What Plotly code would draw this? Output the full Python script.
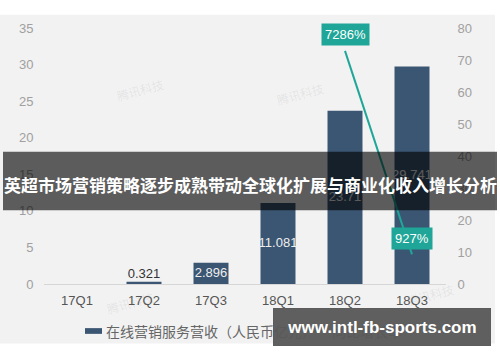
import plotly.graph_objects as go

# ---------------- data ----------------
categories = ["17Q1", "17Q2", "17Q3", "18Q1", "18Q2", "18Q3"]
revenue = [None, 0.321, 2.896, 11.081, 23.71, 29.741]          # 在线营销服务营收（人民币亿元）
revenue_text = ["", "0.321", "2.896", "11.081", "23.71", "29.741"]
growth_pct = [None, None, None, None, 7286, 927]                # 同比增长率 (%)
left_ticks = [0, 5, 10, 15, 20, 25, 30, 35]
right_ticks = [0, 10, 20, 30, 40, 50, 60, 70, 80]

title_text = "英超市场营销策略逐步成熟带动全球化扩展与商业化收入增长分析"
legend_bar = "在线营销服务营收（人民币亿元）"
legend_line = "同比增长率"
watermark = "www.intl-fb-sports.com"
tencent = "腾讯科技"

# ---------------- style ----------------
W, H = 500, 362
BAR = "#3b5672"
TEAL = "#1fa698"
BG = "#f2f2f2"
CJK = "Noto Sans CJK SC"
LAT = "Liberation Sans, Arial, sans-serif"


def px(x):
    return x / W


def py(y):
    return 1 - y / H


fig = go.Figure()

fig.add_bar(x=categories, y=revenue, marker_color=BAR, marker_line_width=0,
            showlegend=False, hoverinfo="skip")

growth_axis = [None if v is None else v / 100 for v in growth_pct]
fig.add_scatter(x=categories, y=growth_axis, yaxis="y2", mode="lines",
                line=dict(color=TEAL, width=2), showlegend=False,
                hoverinfo="skip")

# bar value labels (inside for tall bars, on top for tiny ones)
inside_y = [v / 2 if (v is not None and v >= 1) else None for v in revenue]
outside_y = [v if (v is not None and v < 1) else None for v in revenue]
fig.add_scatter(x=categories, y=inside_y, mode="text", text=revenue_text,
                textfont=dict(color="#eeeeee", size=13, family=LAT),
                showlegend=False, hoverinfo="skip")
fig.add_scatter(x=categories, y=outside_y, mode="text", text=revenue_text,
                textposition="top center",
                textfont=dict(color="#333333", size=13, family=LAT),
                showlegend=False, hoverinfo="skip")

annotations = []
for c, v, g in zip(categories, growth_pct, growth_axis):
    if v is None:
        continue
    annotations.append(dict(
        x=c, y=g, xref="x", yref="y2", text=f"{v}%", showarrow=False,
        yshift=16, bgcolor=TEAL, borderpad=3,
        xanchor="center", yanchor="middle",
        font=dict(color="white", size=13, family=LAT)))

# faint source watermarks
for (x, y) in [(140, 86), (300, 90), (130, 308), (430, 300)]:
    annotations.append(dict(
        x=px(x), y=py(y), xref="paper", yref="paper", text=tencent,
        showarrow=False, textangle=-15, xanchor="center", yanchor="middle",
        font=dict(color="rgba(120,120,120,0.12)", size=12, family=CJK)))

# legend (drawn by hand)
annotations.append(dict(
    x=px(104), y=py(338), xref="paper", yref="paper", text=legend_bar,
    xanchor="left", yanchor="middle", showarrow=False,
    font=dict(color="#666666", size=14, family=CJK)))
annotations.append(dict(
    x=px(330), y=py(338), xref="paper", yref="paper", text=legend_line,
    xanchor="left", yanchor="middle", showarrow=False,
    font=dict(color="#666666", size=14, family=CJK)))

# overlay title banner text
annotations.append(dict(
    x=px(250), y=py(185), xref="paper", yref="paper",
    text=f"<b>{title_text}</b>", showarrow=False,
    xanchor="center", yanchor="middle",
    font=dict(color="white", size=17, family=CJK)))

# bottom-right watermark (box + text drawn last, on top of the legend)
annotations.append(dict(
    x=px(382), y=py(334), xref="paper", yref="paper",
    text=f"<b>{watermark}</b>", showarrow=False,
    xanchor="center", yanchor="middle",
    width=210, height=30, borderpad=3, borderwidth=1,
    bordercolor="rgba(88,88,88,0.96)", bgcolor="rgba(88,88,88,0.96)",
    font=dict(color="white", size=17, family=LAT)))

shapes = [
    # chart background
    dict(type="rect", xref="paper", yref="paper", layer="below",
         x0=px(0), x1=px(495), y0=py(351), y1=py(8),
         fillcolor=BG, line_width=0),
    # legend markers
    dict(type="rect", xref="paper", yref="paper", layer="above",
         x0=px(85), x1=px(102), y0=py(341), y1=py(335),
         fillcolor=BAR, line_width=0),
    dict(type="line", xref="paper", yref="paper", layer="above",
         x0=px(308), x1=px(326), y0=py(338), y1=py(338),
         line=dict(color=TEAL, width=2)),
    # title banner
    dict(type="rect", xref="paper", yref="paper", layer="above",
         x0=px(3), x1=px(497), y0=py(212), y1=py(151),
         fillcolor="rgba(0,0,0,0.62)", line_width=0),
]

fig.update_layout(
    width=W, height=H, autosize=False,
    margin=dict(l=0, r=0, t=0, b=0, pad=0),
    paper_bgcolor="white", plot_bgcolor="rgba(0,0,0,0)",
    bargap=0.478, showlegend=False,
    xaxis=dict(domain=[px(43.5), px(445.5)], showgrid=False, zeroline=False,
               showline=True, linecolor="#d6d6d6", linewidth=1,
               tickfont=dict(color="#555555", size=13, family=LAT),
               ticks="", anchor="y", ticklabelstandoff=4),
    yaxis=dict(domain=[py(289), py(22)], range=[0, 35], tickvals=left_ticks,
               showgrid=False, zeroline=False, showline=False, ticks="",
               tickfont=dict(color="#a0a0a0", size=13, family=LAT),
               ticklabelstandoff=9),
    yaxis2=dict(domain=[py(289), py(22)], range=[0, 80], tickvals=right_ticks,
                overlaying="y", side="right", anchor="x",
                showgrid=False, zeroline=False, showline=False, ticks="",
                tickfont=dict(color="#a0a0a0", size=13, family=LAT),
                ticklabelstandoff=11),
    shapes=shapes, annotations=annotations,
)

fig.write_html(
    "out.html",
    config={"displayModeBar": False},
    post_script="document.body.style.margin='0';"
                "document.body.style.overflow='hidden';",
)
